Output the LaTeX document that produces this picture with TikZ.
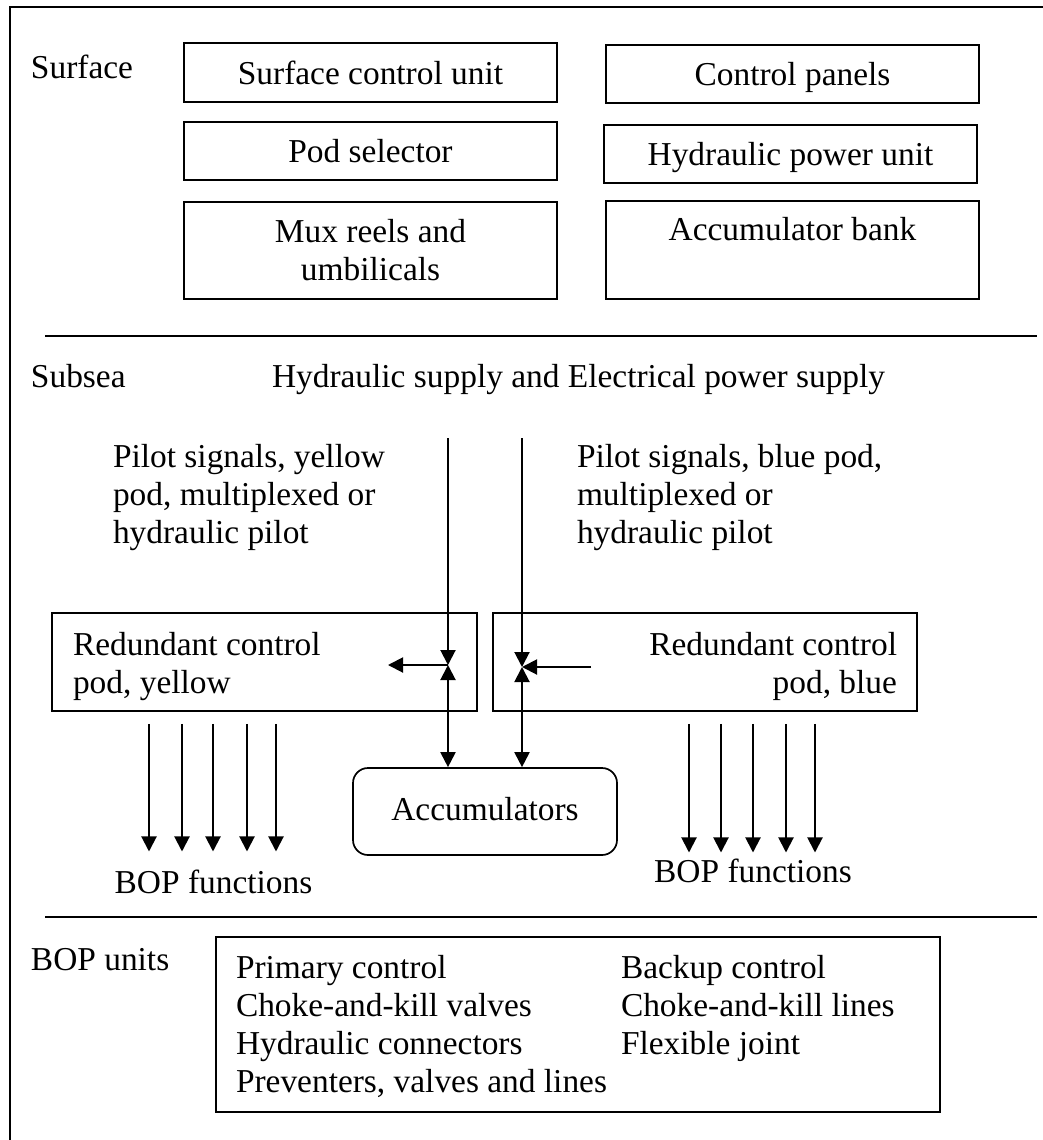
\documentclass[tikz,border=0pt]{standalone}
\usepackage{fontspec}
\setmainfont{Liberation Serif}
\usetikzlibrary{positioning,arrows.meta}
\tikzset{
  flowarrow/.style={-{Triangle[length=7.5pt, width=7.5pt]}, line width=1pt},
  dflowarrow/.style={{Triangle[length=7.5pt, width=7.5pt]}-{Triangle[length=7.5pt, width=7.5pt]}, line width=1pt},
  unitbox/.style={draw, line width=0.85pt, inner sep=0pt, minimum width=186.5pt, minimum height=29pt, align=center, text height=11.5pt, text depth=0pt},
  podbox/.style={draw, line width=0.85pt, inner sep=0pt, minimum width=212.5pt, minimum height=49pt},
  accbox/.style={draw, line width=0.85pt, rounded corners=7.5pt, inner sep=0pt, minimum width=132pt, minimum height=43.5pt, text height=11.5pt, text depth=3pt},
  plaintext/.style={inner sep=0pt, outer sep=0pt},
  divider/.style={line width=1.1pt}
}

\begin{document}
\begin{tikzpicture}[x=0.5pt, y=-0.5pt, >=Latex, every node/.style={font=\fontsize{16.7}{19}\selectfont}]
  \useasboundingbox (0,0) rectangle (1043,1140);
  % frame and the three bands
  \draw[line width=1.2pt] (10,1140) -- (10,7) -- (1043,7);
  \draw[divider] (45,336) -- (1037,336);
  \draw[divider] (45,917) -- (1037,917);

  % surface
  \node[plaintext, anchor=base west] (surflab) at (31,78) {Surface};
  \node[unitbox, minimum height=29.5pt] (scu) at (370.5,72.5) {Surface control unit};
  \node[unitbox] (podsel) at (370.5,151) {Pod selector};
  \node[unitbox, minimum height=48.5pt, text height=, text depth=] (mux) at (370.5,250.5) {Mux reels and\\umbilicals};
  \node[unitbox] (cpanel) at (792.5,74) {Control panels};
  \node[unitbox] (hpu) at (790.5,154) {Hydraulic power unit};
  \node[unitbox, minimum height=49pt] (accbank) at (792.5,250) {};
  \node[plaintext, anchor=base] (accbanktxt) at (accbank.north |- 0,240) {Accumulator bank};

  % subsea (multi-line texts sit on their last line)
  \node[plaintext, anchor=base west] (sealab) at (31,387) {Subsea};
  \node[plaintext, anchor=base west] (supply) at (272,387) {Hydraulic supply and Electrical power supply};
  \node[plaintext, anchor=base west, align=left] (ypilot) at (113,543) {Pilot signals, yellow\\pod, multiplexed or\\hydraulic pilot};
  \node[plaintext, anchor=base west, align=left] (bpilot) at (577,543) {Pilot signals, blue pod,\\multiplexed or\\hydraulic pilot};

  \node[podbox] (ypod) at (264.5,662) {};
  \node[plaintext, anchor=base west, align=left] (ypodtxt) at (73,693) {Redundant control\\pod, yellow};
  \node[podbox, minimum width=212pt] (bpod) at (705,662) {};
  \node[plaintext, anchor=base east, align=right] (bpodtxt) at (897,693) {Redundant control\\pod, blue};
  \node[accbox] (acc) at (485,811.5) {Accumulators};

  \coordinate (ytop) at (448,438);
  \coordinate (yjoin) at (448,665);
  \coordinate (yleft) at (388,665);
  \coordinate (btop) at (522,438);
  \coordinate (bjoin) at (522,667);
  \coordinate (bright) at (591,667);
  \draw[flowarrow] (ytop) -- (yjoin);
  \draw[flowarrow] (yjoin) -- (yleft);
  \draw[dflowarrow] (yjoin) -- (acc.north -| yjoin);
  \draw[flowarrow] (btop) -- (bjoin);
  \draw[flowarrow] (bright) -- (bjoin);
  \draw[dflowarrow] (bjoin) -- (acc.north -| bjoin);

  \node[plaintext, anchor=base] (yfun) at (213.5,893) {BOP functions};
  \node[plaintext, anchor=base] (bfun) at (753,882) {BOP functions};
  \foreach \x in {149,182,213,247,276}
    \draw[flowarrow] ([yshift=-6pt]ypod.south -| \x,0) -- ([yshift=9pt]yfun.north -| \x,0);
  \foreach \x in {689,721,753,786,815}
    \draw[flowarrow] ([yshift=-6pt]bpod.south -| \x,0) -- ([yshift=3pt]bfun.north -| \x,0);

  % bop units
  \node[plaintext, anchor=base west] (boplab) at (31,970) {BOP units};
  \node[draw, line width=0.85pt, inner sep=0pt, minimum width=362pt, minimum height=87.5pt] (bopbox) at (578,1024.5) {};
  \node[plaintext, anchor=base west, align=left] (bopleft) at (236,1092) {Primary control\\Choke-and-kill valves\\Hydraulic connectors\\Preventers, valves and lines};
  \node[plaintext, anchor=base west, align=left] (bopright) at (621,1054) {Backup control\\Choke-and-kill lines\\Flexible joint};
\end{tikzpicture}
\end{document}
